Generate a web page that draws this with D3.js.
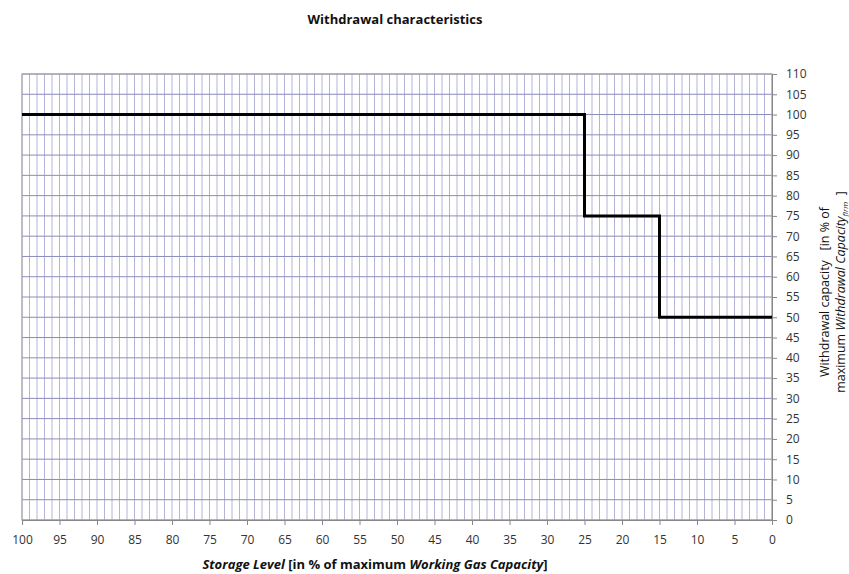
<!DOCTYPE html>
<html>
<head>
<meta charset="utf-8">
<script src="https://cdn.jsdelivr.net/npm/d3@7"></script>
<style>
body { margin: 0; background: #fff; }
text { font-family: "Open Sans", sans-serif; }
</style>
</head>
<body>
<div id="chart"></div>
<script>
// step points of the withdrawal curve
var storageLevel = [100, 25, 15, 0];
var withdrawalCap = [100, 75, 50, 50];
var xTicks = d3.range(100, -1, -5);
var yTicks = d3.range(0, 111, 5);

var width = 849, height = 574;
var mLeft = 22, mRight = 772, mTop = 74, mBottom = 520;

var svg = d3.select("#chart").append("svg")
    .attr("width", width)
    .attr("height", height);

var x = d3.scaleLinear().domain([100, 0]).range([mLeft, mRight]);
var y = d3.scaleLinear().domain([0, 110]).range([mBottom, mTop]);

// grid: vertical every 1, horizontal every 5
var grid = svg.append("g");
grid.selectAll(".vx").data(d3.range(0, 101, 1)).enter().append("line")
    .attr("x1", d => x(d)).attr("x2", d => x(d))
    .attr("y1", mTop).attr("y2", mBottom)
    .attr("stroke", "#b4b4d6").attr("stroke-width", 1);
grid.selectAll(".hy").data(yTicks).enter().append("line")
    .attr("x1", mLeft).attr("x2", mRight)
    .attr("y1", d => y(d)).attr("y2", d => y(d))
    .attr("stroke", "#8c8cba").attr("stroke-width", 1);

svg.append("rect")
    .attr("x", mLeft).attr("y", mTop)
    .attr("width", mRight - mLeft).attr("height", mBottom - mTop)
    .attr("fill", "none").attr("stroke", "#a0a0a0");

// axes
var xAxis = svg.append("g")
    .attr("transform", "translate(0," + mBottom + ")")
    .call(d3.axisBottom(x).tickValues(xTicks).tickSize(5).tickPadding(10));
var yAxis = svg.append("g")
    .attr("transform", "translate(" + mRight + ",0)")
    .call(d3.axisRight(y).tickValues(yTicks).tickSize(5).tickPadding(9));
[xAxis, yAxis].forEach(function(a) {
    a.select(".domain").attr("stroke", "#888");
    a.selectAll(".tick line").attr("stroke", "#888");
    a.selectAll(".tick text").attr("fill", "#333").style("font-size", "12px")
        .style("font-family", "'Open Sans', sans-serif");
});

// withdrawal line
var pts = storageLevel.map((d, i) => [d, withdrawalCap[i]]);
svg.append("path")
    .datum(pts)
    .attr("fill", "none")
    .attr("stroke", "#000")
    .attr("stroke-width", 3)
    .attr("d", d3.line().x(d => x(d[0])).y(d => y(d[1])).curve(d3.curveStepAfter));

// title
svg.append("text")
    .attr("x", 395).attr("y", 24)
    .attr("text-anchor", "middle")
    .style("font-size", "13px").style("font-weight", "bold")
    .attr("fill", "#111")
    .text("Withdrawal characteristics");

// x label
var xl = svg.append("text")
    .attr("x", 375).attr("y", 569)
    .attr("text-anchor", "middle")
    .style("font-size", "13px").style("font-weight", "bold")
    .attr("fill", "#111");
xl.append("tspan").style("font-style", "italic").text("Storage Level ");
xl.append("tspan").text("[in % of maximum ");
xl.append("tspan").style("font-style", "italic").text("Working Gas Capacity");
xl.append("tspan").text("]");

// y label
var yl = svg.append("g").attr("transform", "translate(829,292) rotate(-90)");
var l1 = yl.append("text").attr("text-anchor", "middle").attr("y", 0)
    .style("font-size", "12.5px").style("white-space", "pre").attr("fill", "#111");
l1.append("tspan").text("Withdrawal capacity   [in % of");
var l2 = yl.append("text").attr("text-anchor", "middle").attr("y", 16)
    .style("font-size", "12.5px").style("white-space", "pre").attr("fill", "#111");
l2.append("tspan").text("maximum ");
l2.append("tspan").style("font-style", "italic").text("Withdrawal Capacity");
l2.append("tspan").style("font-style", "italic").style("font-size", "8px").attr("dy", 3).text("firm");
l2.append("tspan").attr("dy", -3).text("  ]");
</script>
</body>
</html>
